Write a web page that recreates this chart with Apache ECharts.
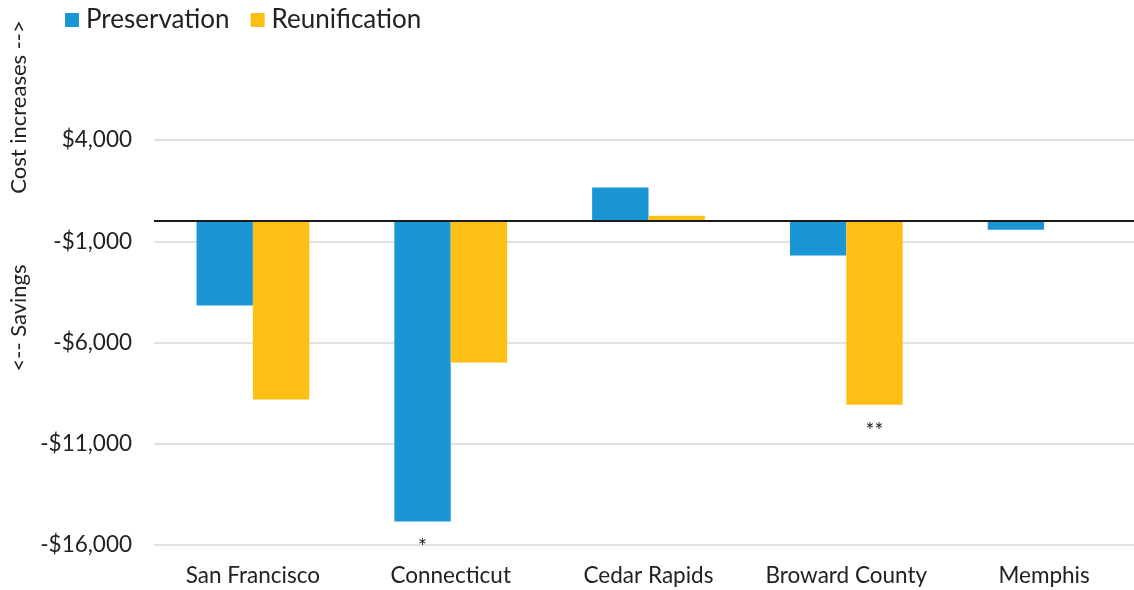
<!DOCTYPE html>
<html>
<head>
<meta charset="utf-8">
<script src="https://cdn.jsdelivr.net/npm/echarts@6/dist/echarts.min.js"></script>
<style>
html,body{margin:0;padding:0;background:#fff;}
#chart{width:1134px;height:590px;}
</style>
</head>
<body>
<div id="chart"></div>
<script>
const categories = ['San Francisco', 'Connecticut', 'Cedar Rapids', 'Broward County', 'Memphis'];
const preservation = [-4170, -14840, 1650, -1700, -430];
const reunification = [-8820, -6990, 260, -9070, null];
const preservationNotes = ['', '*', '', '', ''];
const reunificationNotes = ['', '', '', '**', ''];
const yTicks = [-16000, -11000, -6000, -1000, 4000];

const FONT = 'Lato';
const TEXT = '#222222';

function withNotes(values, notes) {
  return values.map((v, i) => notes[i]
    ? { value: v, label: { show: true, formatter: notes[i] } }
    : v);
}
function fmt(v) {
  const s = '$' + Math.abs(v).toLocaleString('en-US');
  return v < 0 ? '-' + s : s;
}

const chart = echarts.init(document.getElementById('chart'), null, { renderer: 'canvas' });
chart.setOption({
  animation: false,
  textStyle: { fontFamily: FONT },
  legend: {
    left: 65, top: 7, padding: 0,
    icon: 'rect', itemWidth: 14, itemHeight: 14, itemGap: 21,
    textStyle: { fontFamily: FONT, fontSize: 26, color: TEXT, padding: [0, 0, 0, 2] },
    data: ['Preservation', 'Reunification']
  },
  grid: { left: 154, top: 140, width: 989, bottom: 45, containLabel: false, outerBoundsMode: 'none' },
  xAxis: {
    type: 'category',
    data: categories,
    axisLine: { show: false },
    axisTick: { show: false },
    axisLabel: { fontFamily: FONT, fontSize: 22.5, color: TEXT, margin: 19, interval: 0, hideOverlap: false }
  },
  yAxis: {
    type: 'value',
    min: yTicks[0], max: yTicks[yTicks.length - 1], interval: 5000,
    axisLine: { show: false },
    axisTick: { show: false },
    splitLine: { lineStyle: { color: '#d9d9d9', width: 1.5 } },
    axisLabel: { fontFamily: FONT, fontSize: 22.5, color: TEXT, margin: 22, formatter: fmt }
  },
  graphic: [
    { type: 'text', x: 19, y: 107, rotation: Math.PI / 2,
      style: { text: 'Cost increases -->', fontFamily: FONT, fontSize: 22, fill: TEXT, align: 'center', verticalAlign: 'middle' } },
    { type: 'text', x: 19, y: 318, rotation: Math.PI / 2,
      style: { text: '<-- Savings', fontFamily: FONT, fontSize: 22, fill: TEXT, align: 'center', verticalAlign: 'middle' } }
  ],
  series: [
    {
      name: 'Preservation', type: 'bar',
      data: withNotes(preservation, preservationNotes),
      itemStyle: { color: '#1a96d4' },
      barGap: '0%', barCategoryGap: '43%',
      label: { show: false, position: 'bottom', distance: 15, fontFamily: FONT, fontSize: 21, color: TEXT },
      markLine: {
        silent: true, symbol: 'none', label: { show: false },
        lineStyle: { color: '#1a1a1a', width: 2, type: 'solid' },
        data: [{ yAxis: 0 }]
      }
    },
    {
      name: 'Reunification', type: 'bar',
      data: withNotes(reunification, reunificationNotes),
      itemStyle: { color: '#fcbf16' },
      barGap: '0%', barCategoryGap: '43%',
      label: { show: false, position: 'bottom', distance: 16, fontFamily: FONT, fontSize: 21, color: TEXT }
    }
  ]
});
</script>
</body>
</html>
